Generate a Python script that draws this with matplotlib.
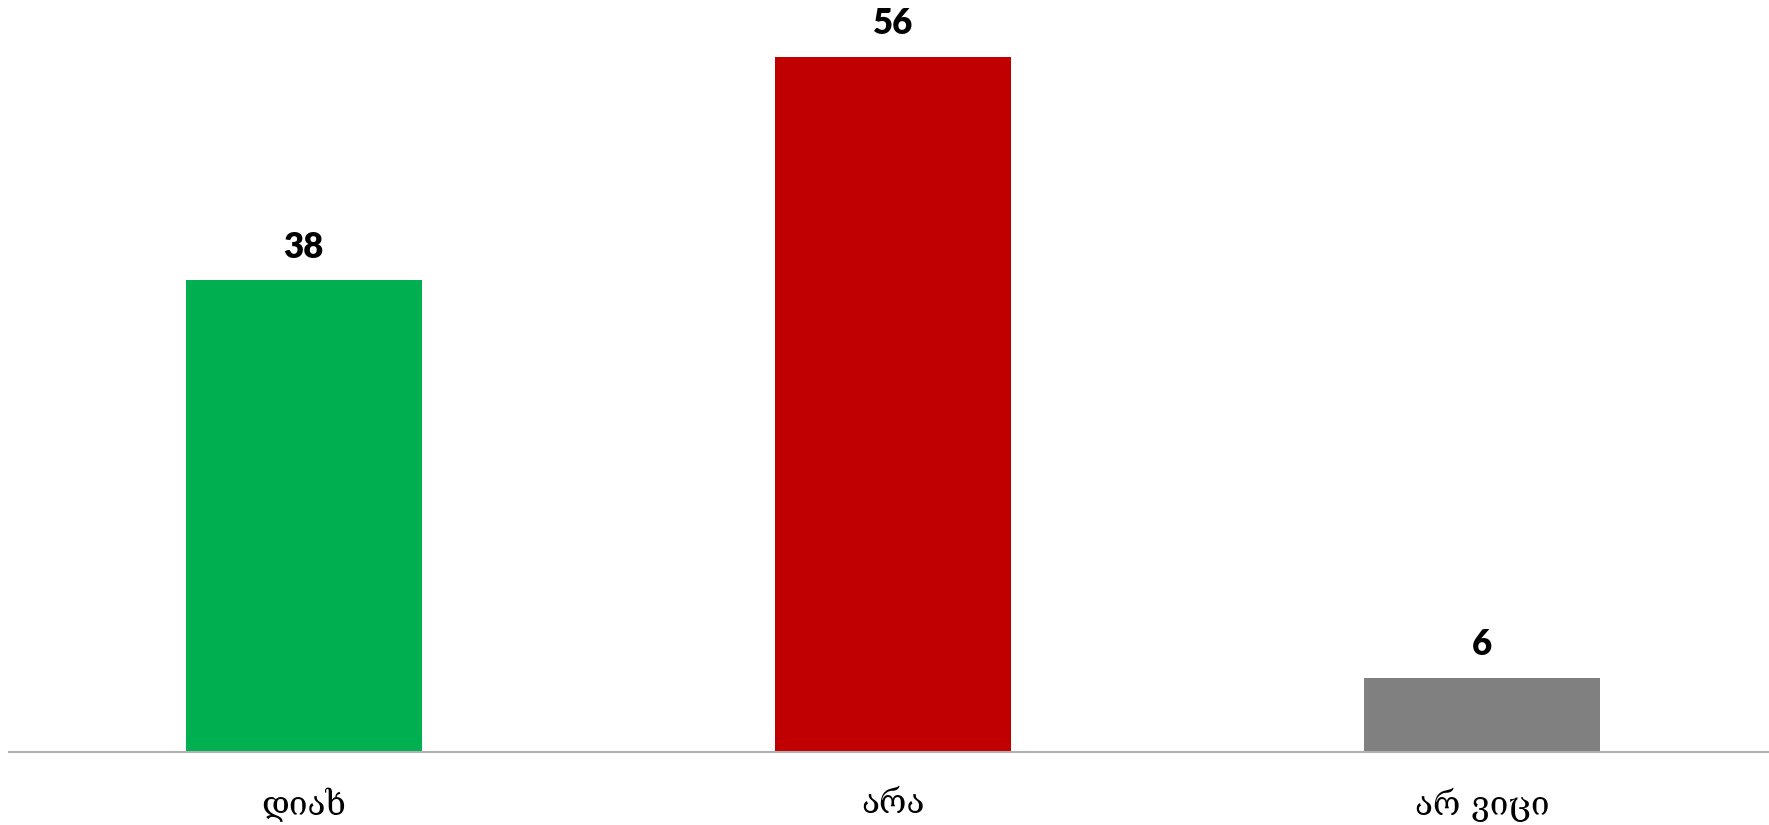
import matplotlib.pyplot as plt

categories = ["დიახ", "არა", "არ ვიცი"]
values = [38, 56, 6]
colors = ["#00B050", "#C00000", "#808080"]


def main():
    fig = plt.figure(figsize=(17.69, 8.25), dpi=100)
    # axes placed so the baseline and bar scale match the reference
    ax = fig.add_axes([9 / 1769, 73 / 825, 1768 / 1769, 0.9025])

    x = range(len(categories))
    bars = ax.bar(x, values, width=0.4, color=colors, zorder=2)

    for rect, v in zip(bars, values):
        ax.annotate(str(v),
                    xy=(rect.get_x() + rect.get_width() / 2, rect.get_height()),
                    xytext=(0, 24), textcoords="offset points",
                    ha="center", va="center",
                    fontsize=25, fontweight="heavy", family=["Lato", "DejaVu Sans"])

    ax.set_xlim(-0.5, 2.5)
    ax.set_ylim(0, 60)
    ax.set_xticks(list(x))
    ax.set_xticklabels(categories, fontsize=24, family=["DejaVu Serif", "DejaVu Sans"])
    ax.tick_params(axis="x", length=0, pad=26)
    ax.set_yticks([])

    for side in ["top", "right", "left"]:
        ax.spines[side].set_visible(False)
    ax.spines["bottom"].set_color("#B0B0B0")
    ax.spines["bottom"].set_linewidth(1.5)

    fig.savefig("out.png", dpi=100)


if __name__ == "__main__":
    main()
